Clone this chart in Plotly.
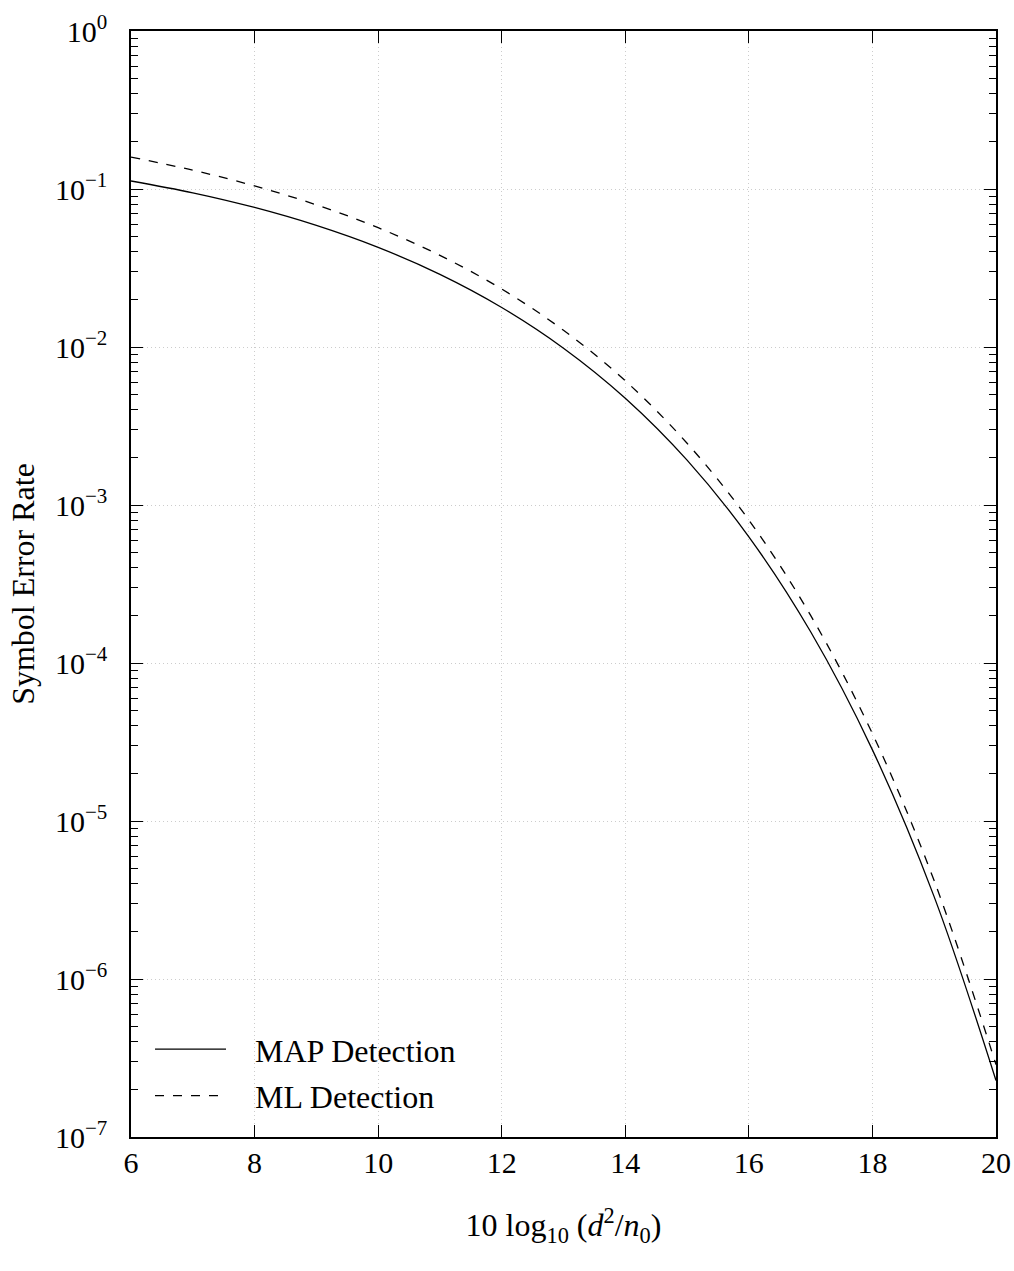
import plotly.graph_objects as go

# Data
snr_db = [6, 7, 8, 9, 10, 11, 12, 13, 14, 15, 16, 17, 18, 19, 20]
ser_map = [0.1124, 0.0946, 0.0764, 0.0588, 0.0427, 0.02883, 0.01779, 0.00983,
           0.00474, 0.001922, 0.000629, 1.576e-4, 2.82e-5, 3.31e-6, 2.28e-7]
ser_ml = [0.1592, 0.1315, 0.1046, 0.0794, 0.0569, 0.0380, 0.02327, 0.01276,
          0.00611, 0.00246, 0.000803, 0.000200, 3.57e-5, 4.18e-6, 2.87e-7]

x_ticks = [6, 8, 10, 12, 14, 16, 18, 20]
y_tick_exps = [0, -1, -2, -3, -4, -5, -6, -7]

FONT = "Liberation Serif"
FS_TICK = 30
FS_TEXT = 32
NB = "\u00a0\u00a0\u00a0"

fig = go.Figure()
fig.add_trace(go.Scatter(x=snr_db, y=ser_map, mode="lines", name=NB + "MAP Detection",
                         legendgroup="map",
                         line=dict(color="black", width=1.3, shape="spline")))
fig.add_trace(go.Scatter(x=snr_db, y=ser_ml, mode="lines", name=NB + "ML Detection",
                         legendgroup="ml",
                         line=dict(color="black", width=1.3, dash="dash", shape="spline")))

yvals = [10.0 ** e for e in y_tick_exps]
ytext = ["10<sup>%s</sup>" % (str(e).replace("-", "\u2212")) for e in y_tick_exps]
minor_vals = [m * 10.0 ** e for e in range(-7, 0) for m in range(2, 10)]

fig.update_layout(
    width=1014, height=1271,
    margin=dict(l=131, r=18, t=31, b=134),
    paper_bgcolor="white", plot_bgcolor="white",
    font=dict(family=FONT, size=FS_TEXT, color="black"),
    showlegend=True,
    legend=dict(x=0.022, y=0.012, xanchor="left", yanchor="bottom",
                bgcolor="rgba(0,0,0,0)", borderwidth=0,
                font=dict(family=FONT, size=FS_TEXT), itemwidth=71,
                tracegroupgap=2),
)
fig.update_xaxes(
    range=[6, 20], tickvals=x_ticks, ticktext=[str(v) for v in x_ticks],
    ticks="inside", ticklen=12, tickwidth=1.3, tickcolor="black",
    showline=True, linecolor="black", linewidth=1.5, mirror="allticks",
    showgrid=True, gridcolor="#cccccc", griddash="1px,3px", gridwidth=1,
    zeroline=False, automargin=False, ticklabelstandoff=-2,
    ticklabeloverflow="allow",
    tickfont=dict(family=FONT, size=FS_TICK),
    title=dict(text="10 log<sub>10</sub> (<i>d</i><sup>2</sup>/<i>n</i><sub>0</sub>)",
               font=dict(family=FONT, size=FS_TEXT), standoff=36),
)
fig.update_yaxes(
    type="log", range=[-7, 0], tickvals=yvals, ticktext=ytext,
    ticks="inside", ticklen=12, tickwidth=1.3, tickcolor="black",
    showline=True, linecolor="black", linewidth=1.5, mirror="allticks",
    showgrid=True, gridcolor="#cccccc", griddash="1px,3px", gridwidth=1,
    zeroline=False, automargin=False, ticklabelstandoff=16,
    tickfont=dict(family=FONT, size=FS_TICK),
    minor=dict(tickvals=minor_vals, ticks="inside", ticklen=7, tickwidth=1,
               tickcolor="black", showgrid=False),
    title=dict(text="Symbol Error Rate", font=dict(family=FONT, size=FS_TEXT), standoff=11),
)

fig.write_html(
    "out.html",
    config={"displayModeBar": False},
    post_script="document.body.style.margin='0';document.body.style.overflow='hidden';",
)
